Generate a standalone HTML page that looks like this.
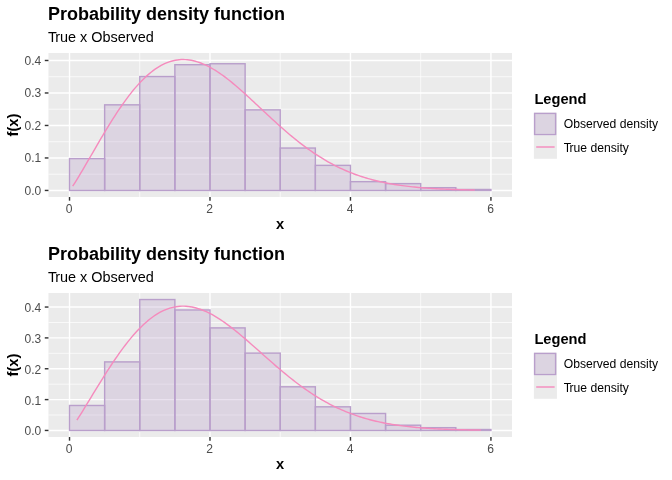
<!DOCTYPE html>
<html><head><meta charset="utf-8"><title>Probability density function</title>
<style>html,body{margin:0;padding:0;background:#fff}svg{display:block;font-family:"Liberation Sans", Arial, Helvetica, sans-serif}</style>
</head><body>
<svg width="672" height="480" viewBox="0 0 672 480">
<rect width="672" height="480" fill="#fff"/>
<rect x="48.45" y="53.0" width="463.55" height="144.0" fill="#EBEBEB"/>
<line x1="48.45" x2="512.0" y1="174.21" y2="174.21" stroke="#fff" stroke-width="0.71"/>
<line x1="48.45" x2="512.0" y1="141.72" y2="141.72" stroke="#fff" stroke-width="0.71"/>
<line x1="48.45" x2="512.0" y1="109.23" y2="109.23" stroke="#fff" stroke-width="0.71"/>
<line x1="48.45" x2="512.0" y1="76.74" y2="76.74" stroke="#fff" stroke-width="0.71"/>
<line y1="53.0" y2="197.0" x1="139.76" x2="139.76" stroke="#fff" stroke-width="0.71"/>
<line y1="53.0" y2="197.0" x1="280.22" x2="280.22" stroke="#fff" stroke-width="0.71"/>
<line y1="53.0" y2="197.0" x1="420.69" x2="420.69" stroke="#fff" stroke-width="0.71"/>
<line x1="48.45" x2="512.0" y1="190.45" y2="190.45" stroke="#fff" stroke-width="1.42"/>
<line x1="48.45" x2="512.0" y1="157.96" y2="157.96" stroke="#fff" stroke-width="1.42"/>
<line x1="48.45" x2="512.0" y1="125.47" y2="125.47" stroke="#fff" stroke-width="1.42"/>
<line x1="48.45" x2="512.0" y1="92.98" y2="92.98" stroke="#fff" stroke-width="1.42"/>
<line x1="48.45" x2="512.0" y1="60.49" y2="60.49" stroke="#fff" stroke-width="1.42"/>
<line y1="53.0" y2="197.0" x1="69.52" x2="69.52" stroke="#fff" stroke-width="1.42"/>
<line y1="53.0" y2="197.0" x1="209.99" x2="209.99" stroke="#fff" stroke-width="1.42"/>
<line y1="53.0" y2="197.0" x1="350.46" x2="350.46" stroke="#fff" stroke-width="1.42"/>
<line y1="53.0" y2="197.0" x1="490.93" x2="490.93" stroke="#fff" stroke-width="1.42"/>
<rect x="69.52" y="158.61" width="35.12" height="31.84" fill="#B99FCB" fill-opacity="0.3" stroke="#B99FCB" stroke-width="1.42" stroke-linejoin="miter"/>
<rect x="104.64" y="104.84" width="35.12" height="85.61" fill="#B99FCB" fill-opacity="0.3" stroke="#B99FCB" stroke-width="1.42" stroke-linejoin="miter"/>
<rect x="139.76" y="76.57" width="35.12" height="113.88" fill="#B99FCB" fill-opacity="0.3" stroke="#B99FCB" stroke-width="1.42" stroke-linejoin="miter"/>
<rect x="174.87" y="64.71" width="35.12" height="125.74" fill="#B99FCB" fill-opacity="0.3" stroke="#B99FCB" stroke-width="1.42" stroke-linejoin="miter"/>
<rect x="209.99" y="63.74" width="35.12" height="126.71" fill="#B99FCB" fill-opacity="0.3" stroke="#B99FCB" stroke-width="1.42" stroke-linejoin="miter"/>
<rect x="245.11" y="109.88" width="35.12" height="80.58" fill="#B99FCB" fill-opacity="0.3" stroke="#B99FCB" stroke-width="1.42" stroke-linejoin="miter"/>
<rect x="280.22" y="148.05" width="35.12" height="42.40" fill="#B99FCB" fill-opacity="0.3" stroke="#B99FCB" stroke-width="1.42" stroke-linejoin="miter"/>
<rect x="315.34" y="165.37" width="35.12" height="25.08" fill="#B99FCB" fill-opacity="0.3" stroke="#B99FCB" stroke-width="1.42" stroke-linejoin="miter"/>
<rect x="350.46" y="181.68" width="35.12" height="8.77" fill="#B99FCB" fill-opacity="0.3" stroke="#B99FCB" stroke-width="1.42" stroke-linejoin="miter"/>
<rect x="385.58" y="183.63" width="35.12" height="6.82" fill="#B99FCB" fill-opacity="0.3" stroke="#B99FCB" stroke-width="1.42" stroke-linejoin="miter"/>
<rect x="420.69" y="187.69" width="35.12" height="2.76" fill="#B99FCB" fill-opacity="0.3" stroke="#B99FCB" stroke-width="1.42" stroke-linejoin="miter"/>
<rect x="455.81" y="189.48" width="35.12" height="0.97" fill="#B99FCB" fill-opacity="0.3" stroke="#B99FCB" stroke-width="1.42" stroke-linejoin="miter"/>
<polyline points="72.68,186.16 74.69,183.07 76.70,179.87 78.71,176.58 80.72,173.23 82.73,169.83 84.74,166.41 86.75,162.95 88.76,159.48 90.78,156.01 92.79,152.53 94.80,149.06 96.81,145.60 98.82,142.15 100.83,138.73 102.84,135.33 104.85,131.97 106.86,128.64 108.87,125.36 110.88,122.12 112.89,118.93 114.90,115.79 116.91,112.71 118.92,109.70 120.93,106.74 122.94,103.86 124.95,101.05 126.96,98.31 128.97,95.65 130.98,93.07 133.00,90.57 135.01,88.16 137.02,85.84 139.03,83.60 141.04,81.46 143.05,79.42 145.06,77.46 147.07,75.61 149.08,73.85 151.09,72.20 153.10,70.64 155.11,69.19 157.12,67.84 159.13,66.59 161.14,65.44 163.15,64.40 165.16,63.46 167.17,62.62 169.18,61.88 171.19,61.25 173.20,60.72 175.22,60.29 177.23,59.95 179.24,59.72 181.25,59.58 183.26,59.55 185.27,59.60 187.28,59.75 189.29,59.99 191.30,60.32 193.31,60.73 195.32,61.24 197.33,61.82 199.34,62.49 201.35,63.24 203.36,64.06 205.37,64.96 207.38,65.92 209.39,66.96 211.40,68.07 213.41,69.24 215.42,70.46 217.44,71.75 219.45,73.10 221.46,74.49 223.47,75.94 225.48,77.44 227.49,78.97 229.50,80.55 231.51,82.17 233.52,83.83 235.53,85.52 237.54,87.24 239.55,88.99 241.56,90.76 243.57,92.55 245.58,94.37 247.59,96.20 249.60,98.05 251.61,99.91 253.62,101.77 255.63,103.65 257.64,105.53 259.65,107.42 261.67,109.30 263.68,111.18 265.69,113.06 267.70,114.94 269.71,116.80 271.72,118.66 273.73,120.51 275.74,122.34 277.75,124.16 279.76,125.96 281.77,127.75 283.78,129.51 285.79,131.26 287.80,132.98 289.81,134.69 291.82,136.37 293.83,138.02 295.84,139.65 297.85,141.25 299.86,142.83 301.87,144.38 303.89,145.89 305.90,147.38 307.91,148.85 309.92,150.28 311.93,151.68 313.94,153.05 315.95,154.38 317.96,155.69 319.97,156.97 321.98,158.21 323.99,159.43 326.00,160.61 328.01,161.76 330.02,162.88 332.03,163.97 334.04,165.03 336.05,166.05 338.06,167.05 340.07,168.02 342.08,168.96 344.09,169.86 346.11,170.74 348.12,171.59 350.13,172.41 352.14,173.21 354.15,173.98 356.16,174.72 358.17,175.43 360.18,176.12 362.19,176.78 364.20,177.42 366.21,178.04 368.22,178.63 370.23,179.19 372.24,179.74 374.25,180.27 376.26,180.77 378.27,181.25 380.28,181.71 382.29,182.16 384.30,182.58 386.31,182.99 388.33,183.38 390.34,183.75 392.35,184.10 394.36,184.44 396.37,184.77 398.38,185.07 400.39,185.37 402.40,185.65 404.41,185.92 406.42,186.17 408.43,186.41 410.44,186.64 412.45,186.86 414.46,187.07 416.47,187.26 418.48,187.45 420.49,187.63 422.50,187.80 424.51,187.96 426.52,188.11 428.53,188.25 430.55,188.38 432.56,188.51 434.57,188.63 436.58,188.75 438.59,188.85 440.60,188.95 442.61,189.05 444.62,189.14 446.63,189.23 448.64,189.31 450.65,189.38 452.66,189.45 454.67,189.52 456.68,189.58 458.69,189.64 460.70,189.69 462.71,189.75 464.72,189.79 466.73,189.84 468.74,189.88 470.75,189.92 472.77,189.96 474.78,189.99" fill="none" stroke="#F58BBD" stroke-width="1.42" stroke-linejoin="round"/>
<line x1="44.78" x2="48.45" y1="190.45" y2="190.45" stroke="#333" stroke-width="1.42"/>
<text x="41.25" y="195" text-anchor="end" font-size="12" fill="#4D4D4D">0.0</text>
<line x1="44.78" x2="48.45" y1="157.96" y2="157.96" stroke="#333" stroke-width="1.42"/>
<text x="41.25" y="162" text-anchor="end" font-size="12" fill="#4D4D4D">0.1</text>
<line x1="44.78" x2="48.45" y1="125.47" y2="125.47" stroke="#333" stroke-width="1.42"/>
<text x="41.25" y="130" text-anchor="end" font-size="12" fill="#4D4D4D">0.2</text>
<line x1="44.78" x2="48.45" y1="92.98" y2="92.98" stroke="#333" stroke-width="1.42"/>
<text x="41.25" y="97" text-anchor="end" font-size="12" fill="#4D4D4D">0.3</text>
<line x1="44.78" x2="48.45" y1="60.49" y2="60.49" stroke="#333" stroke-width="1.42"/>
<text x="41.25" y="65" text-anchor="end" font-size="12" fill="#4D4D4D">0.4</text>
<line y1="197.0" y2="200.67" x1="69.52" x2="69.52" stroke="#333" stroke-width="1.42"/>
<text x="69.22" y="212.60" text-anchor="middle" font-size="12.1" fill="#4D4D4D">0</text>
<line y1="197.0" y2="200.67" x1="209.99" x2="209.99" stroke="#333" stroke-width="1.42"/>
<text x="209.69" y="212.60" text-anchor="middle" font-size="12.1" fill="#4D4D4D">2</text>
<line y1="197.0" y2="200.67" x1="350.46" x2="350.46" stroke="#333" stroke-width="1.42"/>
<text x="350.16" y="212.60" text-anchor="middle" font-size="12.1" fill="#4D4D4D">4</text>
<line y1="197.0" y2="200.67" x1="490.93" x2="490.93" stroke="#333" stroke-width="1.42"/>
<text x="490.63" y="212.60" text-anchor="middle" font-size="12.1" fill="#4D4D4D">6</text>
<text x="48" y="20.00" font-size="18" font-weight="bold" word-spacing="0" fill="#000">Probability density function</text>
<text x="48" y="41.80" font-size="14.45" fill="#000">T<tspan dx="-1.1">r</tspan>ue x Observed</text>
<text x="280" y="229.00" text-anchor="middle" font-size="14.67" font-weight="bold" fill="#000">x</text>
<text transform="translate(17.9,125.00) rotate(-90)" text-anchor="middle" font-size="14.67" font-weight="bold" fill="#000">f(x)</text>
<text x="534.4" y="103.70" font-size="14.67" font-weight="bold" fill="#000">Legend</text>
<rect x="533.9" y="112.70" width="23.04" height="23.04" fill="#EBEBEB"/>
<rect x="534.61" y="113.41" width="20.98" height="21.18" fill="#B99FCB" fill-opacity="0.3" stroke="#B99FCB" stroke-width="1.42"/>
<rect x="533.9" y="135.74" width="23.04" height="23.04" fill="#EBEBEB"/>
<line x1="536.20" x2="554.64" y1="147.00" y2="147.00" stroke="#F58BBD" stroke-width="1.42"/>
<text x="563.7" y="127.82" font-size="12.15" fill="#000">Observed density</text>
<text x="563.7" y="151.56" font-size="12.15" fill="#000">T<tspan dx="-1.2">r</tspan>ue density</text>
<rect x="48.45" y="293.0" width="463.55" height="144.0" fill="#EBEBEB"/>
<line x1="48.45" x2="512.0" y1="415.03" y2="415.03" stroke="#fff" stroke-width="0.71"/>
<line x1="48.45" x2="512.0" y1="384.18" y2="384.18" stroke="#fff" stroke-width="0.71"/>
<line x1="48.45" x2="512.0" y1="353.32" y2="353.32" stroke="#fff" stroke-width="0.71"/>
<line x1="48.45" x2="512.0" y1="322.47" y2="322.47" stroke="#fff" stroke-width="0.71"/>
<line y1="293.0" y2="437.0" x1="139.76" x2="139.76" stroke="#fff" stroke-width="0.71"/>
<line y1="293.0" y2="437.0" x1="280.22" x2="280.22" stroke="#fff" stroke-width="0.71"/>
<line y1="293.0" y2="437.0" x1="420.69" x2="420.69" stroke="#fff" stroke-width="0.71"/>
<line x1="48.45" x2="512.0" y1="430.45" y2="430.45" stroke="#fff" stroke-width="1.42"/>
<line x1="48.45" x2="512.0" y1="399.60" y2="399.60" stroke="#fff" stroke-width="1.42"/>
<line x1="48.45" x2="512.0" y1="368.75" y2="368.75" stroke="#fff" stroke-width="1.42"/>
<line x1="48.45" x2="512.0" y1="337.90" y2="337.90" stroke="#fff" stroke-width="1.42"/>
<line x1="48.45" x2="512.0" y1="307.04" y2="307.04" stroke="#fff" stroke-width="1.42"/>
<line y1="293.0" y2="437.0" x1="69.52" x2="69.52" stroke="#fff" stroke-width="1.42"/>
<line y1="293.0" y2="437.0" x1="209.99" x2="209.99" stroke="#fff" stroke-width="1.42"/>
<line y1="293.0" y2="437.0" x1="350.46" x2="350.46" stroke="#fff" stroke-width="1.42"/>
<line y1="293.0" y2="437.0" x1="490.93" x2="490.93" stroke="#fff" stroke-width="1.42"/>
<rect x="69.52" y="405.49" width="35.12" height="24.96" fill="#B99FCB" fill-opacity="0.3" stroke="#B99FCB" stroke-width="1.42" stroke-linejoin="miter"/>
<rect x="104.64" y="361.90" width="35.12" height="68.56" fill="#B99FCB" fill-opacity="0.3" stroke="#B99FCB" stroke-width="1.42" stroke-linejoin="miter"/>
<rect x="139.76" y="299.55" width="35.12" height="130.91" fill="#B99FCB" fill-opacity="0.3" stroke="#B99FCB" stroke-width="1.42" stroke-linejoin="miter"/>
<rect x="174.87" y="309.97" width="35.12" height="120.48" fill="#B99FCB" fill-opacity="0.3" stroke="#B99FCB" stroke-width="1.42" stroke-linejoin="miter"/>
<rect x="209.99" y="327.90" width="35.12" height="102.56" fill="#B99FCB" fill-opacity="0.3" stroke="#B99FCB" stroke-width="1.42" stroke-linejoin="miter"/>
<rect x="245.11" y="353.11" width="35.12" height="77.35" fill="#B99FCB" fill-opacity="0.3" stroke="#B99FCB" stroke-width="1.42" stroke-linejoin="miter"/>
<rect x="280.22" y="386.80" width="35.12" height="43.66" fill="#B99FCB" fill-opacity="0.3" stroke="#B99FCB" stroke-width="1.42" stroke-linejoin="miter"/>
<rect x="315.34" y="406.82" width="35.12" height="23.63" fill="#B99FCB" fill-opacity="0.3" stroke="#B99FCB" stroke-width="1.42" stroke-linejoin="miter"/>
<rect x="350.46" y="413.49" width="35.12" height="16.97" fill="#B99FCB" fill-opacity="0.3" stroke="#B99FCB" stroke-width="1.42" stroke-linejoin="miter"/>
<rect x="385.58" y="425.21" width="35.12" height="5.25" fill="#B99FCB" fill-opacity="0.3" stroke="#B99FCB" stroke-width="1.42" stroke-linejoin="miter"/>
<rect x="420.69" y="427.68" width="35.12" height="2.78" fill="#B99FCB" fill-opacity="0.3" stroke="#B99FCB" stroke-width="1.42" stroke-linejoin="miter"/>
<rect x="455.81" y="429.53" width="35.12" height="0.93" fill="#B99FCB" fill-opacity="0.3" stroke="#B99FCB" stroke-width="1.42" stroke-linejoin="miter"/>
<polyline points="76.90,420.10 78.92,416.96 80.94,413.76 82.96,410.51 84.98,407.23 87.00,403.94 89.02,400.62 91.04,397.31 93.06,393.99 95.08,390.67 97.11,387.37 99.13,384.09 101.15,380.82 103.17,377.59 105.19,374.38 107.21,371.21 109.23,368.08 111.25,365.00 113.27,361.96 115.29,358.98 117.32,356.05 119.34,353.18 121.36,350.38 123.38,347.64 125.40,344.97 127.42,342.37 129.44,339.85 131.46,337.41 133.48,335.04 135.50,332.76 137.53,330.56 139.55,328.46 141.57,326.44 143.59,324.51 145.61,322.67 147.63,320.92 149.65,319.27 151.67,317.72 153.69,316.26 155.71,314.91 157.74,313.64 159.76,312.48 161.78,311.42 163.80,310.45 165.82,309.59 167.84,308.82 169.86,308.15 171.88,307.58 173.90,307.10 175.92,306.73 177.95,306.44 179.97,306.25 181.99,306.16 184.01,306.15 186.03,306.24 188.05,306.42 190.07,306.68 192.09,307.02 194.11,307.45 196.13,307.97 198.16,308.56 200.18,309.23 202.20,309.97 204.22,310.78 206.24,311.67 208.26,312.62 210.28,313.64 212.30,314.73 214.32,315.87 216.34,317.07 218.37,318.32 220.39,319.63 222.41,320.98 224.43,322.39 226.45,323.83 228.47,325.32 230.49,326.85 232.51,328.41 234.53,330.01 236.55,331.64 238.58,333.29 240.60,334.97 242.62,336.68 244.64,338.40 246.66,340.14 248.68,341.90 250.70,343.67 252.72,345.45 254.74,347.24 256.76,349.03 258.79,350.83 260.81,352.63 262.83,354.43 264.85,356.22 266.87,358.01 268.89,359.80 270.91,361.57 272.93,363.34 274.95,365.10 276.97,366.84 279.00,368.56 281.02,370.27 283.04,371.97 285.06,373.64 287.08,375.30 289.10,376.93 291.12,378.54 293.14,380.13 295.16,381.69 297.18,383.23 299.21,384.74 301.23,386.23 303.25,387.69 305.27,389.12 307.29,390.52 309.31,391.90 311.33,393.24 313.35,394.56 315.37,395.84 317.40,397.10 319.42,398.33 321.44,399.52 323.46,400.69 325.48,401.83 327.50,402.93 329.52,404.01 331.54,405.06 333.56,406.07 335.58,407.06 337.61,408.02 339.63,408.95 341.65,409.85 343.67,410.72 345.69,411.56 347.71,412.38 349.73,413.17 351.75,413.94 353.77,414.67 355.79,415.38 357.82,416.07 359.84,416.73 361.86,417.37 363.88,417.98 365.90,418.57 367.92,419.14 369.94,419.69 371.96,420.21 373.98,420.71 376.00,421.20 378.03,421.66 380.05,422.10 382.07,422.53 384.09,422.94 386.11,423.33 388.13,423.70 390.15,424.05 392.17,424.39 394.19,424.72 396.21,425.03 398.24,425.32 400.26,425.61 402.28,425.87 404.30,426.13 406.32,426.37 408.34,426.60 410.36,426.82 412.38,427.03 414.40,427.23 416.42,427.42 418.45,427.60 420.47,427.77 422.49,427.93 424.51,428.08 426.53,428.22 428.55,428.36 430.57,428.49 432.59,428.61 434.61,428.73 436.63,428.84 438.66,428.94 440.68,429.03 442.70,429.13 444.72,429.21 446.74,429.29 448.76,429.37 450.78,429.44 452.80,429.51 454.82,429.57 456.84,429.63 458.87,429.69 460.89,429.74 462.91,429.79 464.93,429.83 466.95,429.88 468.97,429.92 470.99,429.95 473.01,429.99 475.03,430.02 477.05,430.05 479.08,430.08 481.10,430.11" fill="none" stroke="#F58BBD" stroke-width="1.42" stroke-linejoin="round"/>
<line x1="44.78" x2="48.45" y1="430.45" y2="430.45" stroke="#333" stroke-width="1.42"/>
<text x="41.25" y="435" text-anchor="end" font-size="12" fill="#4D4D4D">0.0</text>
<line x1="44.78" x2="48.45" y1="399.60" y2="399.60" stroke="#333" stroke-width="1.42"/>
<text x="41.25" y="405" text-anchor="end" font-size="12" fill="#4D4D4D">0.1</text>
<line x1="44.78" x2="48.45" y1="368.75" y2="368.75" stroke="#333" stroke-width="1.42"/>
<text x="41.25" y="374" text-anchor="end" font-size="12" fill="#4D4D4D">0.2</text>
<line x1="44.78" x2="48.45" y1="337.90" y2="337.90" stroke="#333" stroke-width="1.42"/>
<text x="41.25" y="343" text-anchor="end" font-size="12" fill="#4D4D4D">0.3</text>
<line x1="44.78" x2="48.45" y1="307.04" y2="307.04" stroke="#333" stroke-width="1.42"/>
<text x="41.25" y="312" text-anchor="end" font-size="12" fill="#4D4D4D">0.4</text>
<line y1="437.0" y2="440.67" x1="69.52" x2="69.52" stroke="#333" stroke-width="1.42"/>
<text x="69.22" y="452.60" text-anchor="middle" font-size="12.1" fill="#4D4D4D">0</text>
<line y1="437.0" y2="440.67" x1="209.99" x2="209.99" stroke="#333" stroke-width="1.42"/>
<text x="209.69" y="452.60" text-anchor="middle" font-size="12.1" fill="#4D4D4D">2</text>
<line y1="437.0" y2="440.67" x1="350.46" x2="350.46" stroke="#333" stroke-width="1.42"/>
<text x="350.16" y="452.60" text-anchor="middle" font-size="12.1" fill="#4D4D4D">4</text>
<line y1="437.0" y2="440.67" x1="490.93" x2="490.93" stroke="#333" stroke-width="1.42"/>
<text x="490.63" y="452.60" text-anchor="middle" font-size="12.1" fill="#4D4D4D">6</text>
<text x="48" y="260.00" font-size="18" font-weight="bold" word-spacing="0" fill="#000">Probability density function</text>
<text x="48" y="281.80" font-size="14.45" fill="#000">T<tspan dx="-1.1">r</tspan>ue x Observed</text>
<text x="280" y="469.00" text-anchor="middle" font-size="14.67" font-weight="bold" fill="#000">x</text>
<text transform="translate(17.9,365.00) rotate(-90)" text-anchor="middle" font-size="14.67" font-weight="bold" fill="#000">f(x)</text>
<text x="534.4" y="343.70" font-size="14.67" font-weight="bold" fill="#000">Legend</text>
<rect x="533.9" y="352.70" width="23.04" height="23.04" fill="#EBEBEB"/>
<rect x="534.61" y="353.41" width="20.98" height="21.18" fill="#B99FCB" fill-opacity="0.3" stroke="#B99FCB" stroke-width="1.42"/>
<rect x="533.9" y="375.74" width="23.04" height="23.04" fill="#EBEBEB"/>
<line x1="536.20" x2="554.64" y1="387.00" y2="387.00" stroke="#F58BBD" stroke-width="1.42"/>
<text x="563.7" y="367.82" font-size="12.15" fill="#000">Observed density</text>
<text x="563.7" y="391.56" font-size="12.15" fill="#000">T<tspan dx="-1.2">r</tspan>ue density</text>
</svg>
</body></html>
